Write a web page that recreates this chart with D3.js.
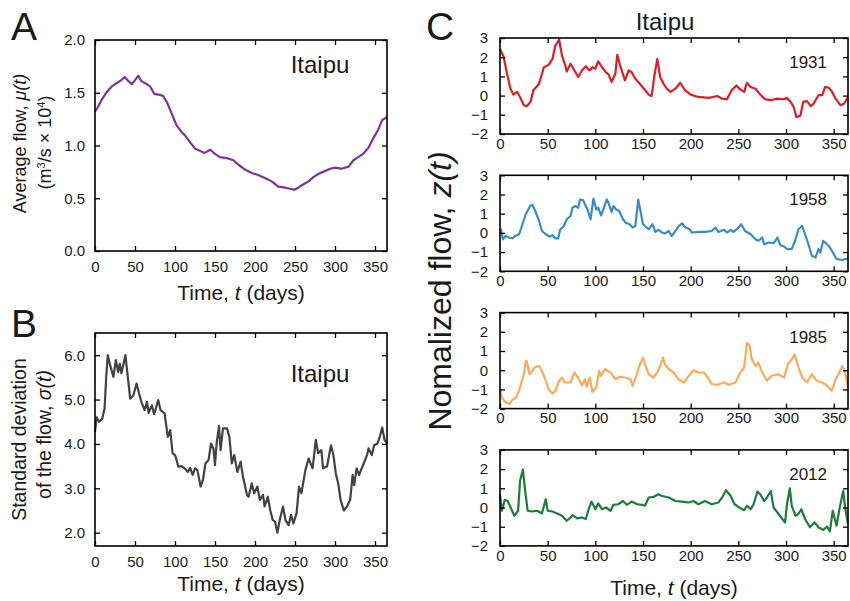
<!DOCTYPE html>
<html>
<head>
<meta charset="utf-8">
<script src="https://cdn.jsdelivr.net/npm/d3@7"></script>
<style>
  body { margin: 0; background: #fff; }
  svg { display: block; font-family: "Liberation Sans", Arial, sans-serif; }
</style>
</head>
<body>
<div id="wrapper"></div>
<script>
/* DATA */
const xTicks = [0, 50, 100, 150, 200, 250, 300, 350];
const muTicks = [0, 0.5, 1.0, 1.5, 2.0];
const sigmaTicks = [2, 3, 4, 5, 6];
const zTicks = [-2, -1, 0, 1, 2, 3];
const years = ['1931', '1958', '1985', '2012'];

// A: average flow, mu(t)
const muDays = [0, 4, 8, 15, 21, 27, 33, 37, 42, 46, 50, 54, 58, 65, 69, 74, 81, 85, 90, 96,
  102, 108, 112, 119, 125, 131, 137, 144, 150, 156, 165, 173, 179, 188, 196, 204, 213, 221, 229, 238,
  244, 249, 254, 260, 267, 273, 279, 285, 294, 300, 308, 317, 323, 329, 335, 342, 348, 354, 359, 365];
const muValues = [1.32, 1.37, 1.43, 1.51, 1.56, 1.59, 1.62, 1.65, 1.61, 1.58, 1.62, 1.66, 1.61, 1.58, 1.56, 1.49, 1.48, 1.47, 1.41, 1.30,
  1.19, 1.13, 1.10, 1.03, 0.97, 0.95, 0.93, 0.96, 0.92, 0.89, 0.88, 0.86, 0.82, 0.77, 0.74, 0.72, 0.69, 0.66, 0.61, 0.60,
  0.59, 0.58, 0.60, 0.63, 0.66, 0.70, 0.73, 0.75, 0.78, 0.79, 0.78, 0.80, 0.86, 0.89, 0.92, 0.98, 1.07, 1.15, 1.24, 1.27];

// B: standard deviation, sigma(t)
const sigmaDays = [0, 2, 5, 9, 12, 14, 16, 19, 23, 26, 29, 31, 33, 35, 38, 41, 44, 48, 52, 55,
  58, 62, 65, 67, 71, 74, 79, 82, 87, 91, 94, 97, 100, 102, 104, 108, 112, 116, 119, 122,
  125, 128, 132, 135, 138, 142, 145, 148, 150, 152, 155, 157, 160, 165, 168, 171, 174, 178, 182, 185,
  190, 192, 196, 199, 203, 206, 210, 212, 216, 219, 222, 225, 228, 231, 235, 238, 242, 245, 248, 252,
  255, 258, 263, 267, 272, 276, 279, 283, 285, 290, 295, 298, 301, 304, 307, 311, 315, 319, 322, 324,
  327, 330, 335, 340, 342, 346, 349, 353, 356, 359, 362, 365];
const sigmaValues = [4.27, 4.6, 4.5, 4.57, 4.8, 5.51, 6.0, 5.77, 5.51, 5.89, 5.62, 5.81, 5.59, 5.75, 6.0, 5.51, 5.02, 5.1, 5.36, 5.14,
  4.95, 4.76, 4.95, 4.7, 4.87, 4.67, 4.99, 4.76, 4.69, 4.16, 4.31, 3.79, 3.75, 3.64, 3.49, 3.5, 3.45, 3.37, 3.46, 3.3,
  3.45, 3.41, 3.04, 3.19, 3.56, 3.64, 4.01, 3.9, 3.52, 4.01, 4.4, 3.86, 4.35, 4.35, 4.16, 3.56, 3.75, 3.37, 3.6, 3.26,
  2.85, 2.81, 3.11, 2.89, 3.04, 2.74, 2.85, 2.59, 2.81, 2.51, 2.29, 2.25, 2.0, 2.29, 2.59, 2.29, 2.17, 2.4, 2.21, 2.44,
  3.04, 2.89, 3.41, 3.67, 3.45, 4.09, 3.79, 3.86, 3.45, 3.49, 3.97, 3.75, 3.34, 3.11, 2.74, 2.5, 2.59, 2.74, 3.3, 3.07,
  3.45, 3.3, 3.52, 3.75, 3.9, 3.75, 3.97, 4.01, 4.16, 4.37, 4.09, 4.01];

// C: normalized flow z(t) per year
const z1931Days = [0, 4, 7, 11, 14, 18, 21, 25, 28, 32, 35, 41, 46, 51, 55, 58, 62, 65, 69, 70,
  74, 77, 82, 86, 90, 94, 97, 100, 103, 107, 111, 114, 117, 121, 123, 126, 131, 135, 138, 142,
  145, 151, 156, 159, 162, 165, 168, 172, 175, 179, 184, 189, 194, 200, 208, 219, 228, 233, 238, 243,
  248, 251, 256, 259, 263, 268, 273, 278, 284, 291, 298, 301, 305, 308, 311, 315, 318, 322, 326, 329,
  334, 338, 341, 345, 348, 352, 357, 361, 365];
const z1931Values = [2.43, 2.0, 1.22, 0.36, 0.05, 0.19, -0.07, -0.5, -0.55, -0.33, 0.28, 0.62, 1.48, 1.6, 1.91, 2.6, 2.91, 2.08, 1.48, 1.26,
  1.66, 1.4, 0.97, 1.31, 1.53, 1.31, 1.48, 1.4, 1.78, 1.48, 1.22, 1.09, 0.71, 1.14, 2.12, 1.57, 0.79, 1.31, 1.22, 0.88,
  0.71, 0.36, 0.05, -0.02, 1.05, 1.91, 0.97, 0.57, 0.36, 0.19, 0.36, 0.67, 0.28, 0.05, -0.07, -0.12, -0.02, -0.16, -0.19, 0.28,
  0.53, 0.36, 0.19, 0.66, 0.45, 0.36, 0.05, -0.19, -0.24, -0.16, -0.19, -0.12, -0.33, -0.59, -1.12, -1.05, -0.33, -0.29, -0.55, -0.41,
  0.02, 0.02, 0.45, 0.4, 0.22, -0.16, -0.5, -0.41, -0.07];

const z1958Days = [0, 1, 3, 6, 9, 13, 16, 20, 23, 27, 32, 34, 37, 41, 44, 48, 52, 55, 58, 61,
  63, 67, 70, 74, 76, 79, 82, 84, 87, 90, 92, 95, 98, 101, 103, 106, 109, 112, 114, 117,
  119, 122, 125, 129, 132, 136, 139, 142, 145, 147, 150, 152, 156, 160, 163, 166, 170, 173, 177, 180,
  184, 187, 191, 194, 199, 201, 208, 215, 222, 226, 229, 235, 238, 242, 245, 249, 253, 257, 263, 268,
  271, 275, 277, 282, 287, 291, 294, 298, 301, 306, 310, 313, 317, 320, 324, 327, 331, 334, 336, 339,
  343, 346, 350, 353, 359, 365];
const z1958Values = [-0.07, 0.19, -0.33, -0.16, -0.24, -0.28, -0.16, -0.07, 0.36, 0.97, 1.43, 1.45, 1.14, 0.62, 0.1, -0.07, -0.19, -0.12, -0.29, -0.29,
  0.16, 0.36, 0.71, 0.88, 1.31, 1.4, 1.31, 1.74, 1.71, 1.4, 1.19, 0.71, 1.78, 1.22, 1.31, 0.91, 1.31, 1.74, 1.53, 1.09,
  1.4, 1.22, 1.14, 0.71, 0.53, 0.45, 0.28, 0.36, 1.74, 1.22, 0.45, 0.36, 0.19, 0.45, 0.05, 0.16, 0.02, -0.03, 0.1, -0.16,
  0.1, 0.33, 0.5, 0.31, 0.19, 0.02, 0.05, 0.05, 0.1, 0.28, 0.05, 0.16, 0.02, 0.16, 0.05, 0.22, 0.45, 0.1, -0.07, -0.33,
  -0.41, -0.24, -0.59, -0.5, -0.53, -0.24, -0.64, -0.71, -0.84, -0.84, -0.33, 0.19, 0.36, -0.07, -0.67, -1.19, -1.28, -0.84, -1.02, -0.41,
  -0.59, -0.76, -1.1, -1.36, -1.41, -1.33];

const z1985Days = [0, 2, 6, 10, 13, 17, 20, 23, 25, 27, 28, 31, 34, 37, 41, 44, 48, 51, 55, 58,
  62, 65, 68, 74, 78, 82, 86, 89, 91, 94, 97, 101, 104, 106, 110, 116, 121, 126, 131, 137,
  139, 143, 146, 150, 152, 156, 161, 166, 171, 173, 177, 182, 187, 193, 198, 203, 208, 214, 218, 222,
  228, 235, 240, 247, 252, 256, 259, 262, 264, 268, 271, 275, 280, 285, 292, 298, 302, 306, 309, 313,
  317, 322, 327, 332, 338, 343, 348, 352, 355, 359, 362, 365];
const z1985Values = [-0.98, -1.45, -1.67, -1.76, -1.55, -1.41, -1.07, -0.55, -0.21, 0.48, 0.48, -0.21, -0.03, 0.17, 0.22, -0.03, -0.55, -0.98, -1.21, -1.07,
  -0.55, -0.38, -0.64, -0.64, -0.12, -0.38, -0.81, -0.47, -0.86, -0.38, -1.12, -0.9, -0.03, -0.29, 0.05, -0.12, -0.47, -0.34, -0.38, -0.47,
  -0.81, -0.29, 0.22, 0.66, 0.31, -0.21, -0.38, -0.03, 0.66, 0.31, 0.05, -0.12, -0.47, -0.64, -0.29, 0, -0.12, -0.12, -0.38, -0.72,
  -0.76, -0.64, -0.76, -0.64, -0.12, 0.14, 1.43, 1.26, 0.57, 0.22, 0.4, -0.12, -0.55, -0.29, -0.21, -0.38, 0.31, 0.57, 0.83, 0.14,
  -0.38, -0.64, -0.21, -0.55, -0.64, -0.81, -1.07, -0.47, -0.21, 0.22, -0.12, -0.9];

const z2012Days = [0, 2, 5, 8, 12, 15, 19, 21, 24, 26, 29, 34, 39, 44, 48, 50, 55, 60, 65, 70,
  74, 76, 81, 86, 90, 93, 96, 100, 103, 107, 111, 116, 119, 124, 129, 133, 138, 144, 149, 152,
  156, 161, 166, 170, 177, 184, 191, 198, 203, 208, 215, 222, 229, 233, 237, 242, 246, 250, 256, 259,
  263, 266, 270, 273, 277, 280, 284, 287, 291, 295, 299, 301, 304, 306, 310, 313, 316, 320, 325, 330,
  334, 339, 343, 346, 349, 353, 356, 360, 362, 365];
const z2012Values = [0.69, -0.17, 0.4, 0.34, -0.09, -0.43, -0.17, 1.38, 1.98, 1.03, -0.17, -0.21, -0.17, -0.31, 0.43, -0.17, -0.21, -0.31, -0.43, -0.69,
  -0.52, -0.4, -0.57, -0.52, -0.6, -0.09, 0.31, -0.09, 0.21, -0.09, 0, -0.17, 0.14, 0.17, 0.34, 0.14, 0.31, 0.17, 0.14, 0.09,
  0.52, 0.55, 0.69, 0.6, 0.52, 0.34, 0.31, 0.26, 0.34, 0.17, 0.34, 0.17, 0.26, 0.52, 0.9, 0.6, 0.17, 0.03, -0.14, 0.09,
  -0.09, 0.17, 0.83, 0.69, 0.34, 0.52, 0.86, 0, -0.26, -0.52, -0.78, 0.17, 1.0, 0.09, -0.43, -0.34, -0.09, -0.6, -1.03, -0.78,
  -1.03, -1.17, -1.0, -1.24, -0.17, -0.95, -0.09, 0.86, 0, -0.86];

const zDays = [z1931Days, z1958Days, z1985Days, z2012Days];
const zValues = [z1931Values, z1958Values, z1985Values, z2012Values];

/* STYLE */
const yearColors = ['#dc1f26', '#3a8cc6', '#fdaa5e', '#1f7c3a'];
const muColor = '#7d3597';
const sigmaColor = '#424242';
const font = '"Liberation Sans", Arial, sans-serif';

/* CHART DIMENSIONS */
const dimensions = {
  width: 850,
  height: 601,
  a: { left: 95, top: 40, width: 292, height: 211 },
  b: { left: 95, top: 333, width: 292, height: 213 },
  c: { left: 500, top: 38, width: 348, height: 96, step: 137.3 },
};

const wrapper = d3
  .select('#wrapper')
  .append('svg')
  .attr('width', dimensions.width)
  .attr('height', dimensions.height);

const lineGenerator = (xScale, yScale) =>
  d3
    .line()
    .x(d => xScale(d[0]))
    .y(d => yScale(d[1]));

function drawFrame(g, xScale, yScale, yTickValues, yFormat, xPad, yPad) {
  const w = xScale.range()[1];
  const h = yScale.range()[0];

  g.append('g')
    .attr('transform', `translate(0,${h})`)
    .call(d3.axisBottom(xScale).tickValues(xTicks).tickSize(-5).tickSizeOuter(0).tickPadding(xPad));
  g.append('g')
    .call(d3.axisTop(xScale).tickValues(xTicks).tickSize(-5).tickSizeOuter(0).tickFormat(''));
  g.append('g')
    .call(d3.axisLeft(yScale).tickValues(yTickValues).tickSize(-5).tickSizeOuter(0).tickPadding(yPad).tickFormat(yFormat));
  g.append('g')
    .attr('transform', `translate(${w},0)`)
    .call(d3.axisRight(yScale).tickValues(yTickValues).tickSize(-5).tickSizeOuter(0).tickFormat(''));

  g.selectAll('.domain').remove();
  g.selectAll('.tick line').attr('stroke', '#000').attr('stroke-width', 1.3);
  g.selectAll('.tick text')
    .attr('font-size', 15)
    .attr('font-family', font)
    .attr('fill', '#1a1a1a');

  g.append('rect')
    .attr('width', w)
    .attr('height', h)
    .attr('fill', 'none')
    .attr('stroke', '#000')
    .attr('stroke-width', 1.6);
}

function timeLabel(x, y, size) {
  const t = wrapper
    .append('text')
    .attr('x', x)
    .attr('y', y)
    .attr('text-anchor', 'middle')
    .attr('font-size', size)
    .attr('fill', '#1a1a1a');
  t.append('tspan').text('Time, ');
  t.append('tspan').attr('font-style', 'italic').text('t');
  t.append('tspan').text(' (days)');
}

function panelLetter(letter, x, y) {
  wrapper
    .append('text')
    .attr('x', x)
    .attr('y', y)
    .attr('font-size', 39)
    .attr('fill', '#1a1a1a')
    .text(letter);
}

/* PANEL A */
{
  const dim = dimensions.a;
  const xScale = d3.scaleLinear().domain([0, 365]).range([0, dim.width]);
  const yScale = d3.scaleLinear().domain([0, 2]).range([dim.height, 0]);
  const bounds = wrapper.append('g').attr('transform', `translate(${dim.left},${dim.top})`);

  bounds
    .append('path')
    .attr('d', lineGenerator(xScale, yScale)(d3.zip(muDays, muValues)))
    .attr('fill', 'none')
    .attr('stroke', muColor)
    .attr('stroke-width', 2.2)
    .attr('stroke-linejoin', 'round');

  drawFrame(bounds, xScale, yScale, muTicks, d3.format('.1f'), 10, 10);

  bounds
    .append('text')
    .attr('x', 225)
    .attr('y', 33)
    .attr('text-anchor', 'middle')
    .attr('font-size', 24)
    .attr('fill', '#1a1a1a')
    .text('Itaipu');

  const label = wrapper
    .append('text')
    .attr('text-anchor', 'middle')
    .attr('font-size', 18)
    .attr('fill', '#1a1a1a')
    .attr('transform', `translate(26,${dim.top + dim.height / 2 - 2}) rotate(-90)`);
  label.append('tspan').text('Average flow, ');
  label.append('tspan').attr('font-style', 'italic').text('μ(t)');

  const unit = wrapper
    .append('text')
    .attr('text-anchor', 'middle')
    .attr('font-size', 18)
    .attr('fill', '#1a1a1a')
    .attr('transform', `translate(51,${dim.top + dim.height / 2 - 3}) rotate(-90)`);
  unit.append('tspan').text('(m');
  unit.append('tspan').attr('font-size', 11).attr('baseline-shift', 'super').text('3');
  unit.append('tspan').text('/s × 10');
  unit.append('tspan').attr('font-size', 11).attr('baseline-shift', 'super').text('4');
  unit.append('tspan').text(')');

  timeLabel(dim.left + dim.width / 2, 300, 21);
  panelLetter('A', 11, 40);
}

/* PANEL B */
{
  const dim = dimensions.b;
  const xScale = d3.scaleLinear().domain([0, 365]).range([0, dim.width]);
  const yScale = d3.scaleLinear().domain([1.7, 6.5]).range([dim.height, 0]);
  const bounds = wrapper.append('g').attr('transform', `translate(${dim.left},${dim.top})`);

  bounds
    .append('path')
    .attr('d', lineGenerator(xScale, yScale)(d3.zip(sigmaDays, sigmaValues)))
    .attr('fill', 'none')
    .attr('stroke', sigmaColor)
    .attr('stroke-width', 2.2)
    .attr('stroke-linejoin', 'round');

  drawFrame(bounds, xScale, yScale, sigmaTicks, d3.format('.1f'), 10, 10);

  bounds
    .append('text')
    .attr('x', 225)
    .attr('y', 49)
    .attr('text-anchor', 'middle')
    .attr('font-size', 24)
    .attr('fill', '#1a1a1a')
    .text('Itaipu');

  wrapper
    .append('text')
    .attr('text-anchor', 'middle')
    .attr('font-size', 19.5)
    .attr('fill', '#1a1a1a')
    .attr('transform', `translate(26,${dim.top + dim.height / 2}) rotate(-90)`)
    .text('Standard deviation');

  const line2 = wrapper
    .append('text')
    .attr('text-anchor', 'middle')
    .attr('font-size', 19.5)
    .attr('fill', '#1a1a1a')
    .attr('transform', `translate(51,${dim.top + dim.height / 2 - 5}) rotate(-90)`);
  line2.append('tspan').text('of the flow, ');
  line2.append('tspan').attr('font-style', 'italic').text('σ(t)');

  timeLabel(dim.left + dim.width / 2, 591, 21);
  panelLetter('B', 11, 337);
}

/* PANEL C */
{
  const dim = dimensions.c;
  const xScale = d3.scaleLinear().domain([0, 365]).range([0, dim.width]);
  const yScale = d3.scaleLinear().domain([-2, 3]).range([dim.height, 0]);

  years.forEach((year, i) => {
    const top = dim.top + i * dim.step;
    const bounds = wrapper.append('g').attr('transform', `translate(${dim.left},${top})`);

    bounds
      .append('path')
      .attr('d', lineGenerator(xScale, yScale)(d3.zip(zDays[i], zValues[i])))
      .attr('fill', 'none')
      .attr('stroke', yearColors[i])
      .attr('stroke-width', 2.2)
      .attr('stroke-linejoin', 'round');

    drawFrame(bounds, xScale, yScale, zTicks, d3.format('d'), 4, 12);

    bounds
      .append('text')
      .attr('x', 327)
      .attr('y', 30)
      .attr('text-anchor', 'end')
      .attr('font-size', 17)
      .attr('fill', '#1a1a1a')
      .text(year);
  });

  wrapper
    .append('text')
    .attr('x', dim.left + dim.width / 2 - 9)
    .attr('y', 30)
    .attr('text-anchor', 'middle')
    .attr('font-size', 24)
    .attr('fill', '#1a1a1a')
    .text('Itaipu');

  const cLabel = wrapper
    .append('text')
    .attr('text-anchor', 'middle')
    .attr('font-size', 32)
    .attr('fill', '#1a1a1a')
    .attr('transform', `translate(451,291) rotate(-90)`);
  cLabel.append('tspan').text('Nomalized flow, ');
  cLabel.append('tspan').attr('font-style', 'italic').text('z(t)');

  timeLabel(dim.left + dim.width / 2, 595, 21);
  panelLetter('C', 426, 40);
}
</script>
</body>
</html>
